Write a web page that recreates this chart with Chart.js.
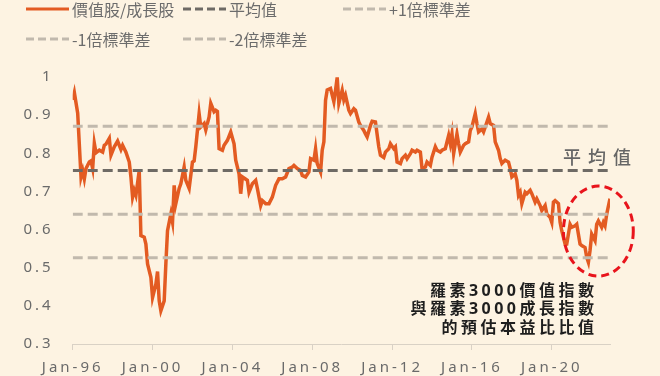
<!DOCTYPE html>
<html>
<head>
<meta charset="utf-8">
<script src="https://cdn.jsdelivr.net/npm/chart.js@4.4.1/dist/chart.umd.min.js"></script>
<style>
  html, body { margin: 0; padding: 0; background: #fdf3e2; }
  #wrap { width: 660px; height: 376px; position: relative; }
</style>
</head>
<body>
<div id="wrap"><canvas id="chart"></canvas></div>
<script>
// Meses desde Jan-1996 (eixo x) e razão value/growth P/E
const monthIdx = [
  0, 1, 3, 5, 6, 7, 8, 10, 11, 12, 13, 14, 16, 18, 19, 20, 22, 23, 25, 27, 29, 30, 32, 34, 35, 36, 37, 38, 40, 41,
  43, 44, 45, 47, 48, 50, 51, 52, 53, 55, 56, 57, 59, 60, 61, 62, 64, 65, 67, 68, 70, 72, 73, 74, 76, 77, 79, 80, 82, 83,
  85, 86, 87, 88, 90, 91, 93, 95, 97, 98, 100, 101, 102, 105, 106, 108, 110, 111, 113, 114, 116, 118, 120, 122, 124, 126, 128, 130, 132, 133,
  135, 137, 138, 140, 142, 143, 145, 146, 147, 149, 150, 151, 152, 153, 155, 157, 158, 159, 160, 162, 163, 164, 166, 167, 169, 170, 172, 173, 175, 176,
  177, 179, 180, 182, 184, 185, 187, 188, 190, 191, 193, 194, 195, 197, 198, 200, 201, 203, 204, 206, 207, 209, 210, 212, 213, 215, 216, 218, 219, 221,
  222, 224, 225, 226, 227, 228, 229, 231, 232, 233, 235, 236, 238, 239, 240, 242, 243, 244, 246, 247, 248, 250, 251, 253, 254, 256, 257, 258, 260, 262,
  263, 264, 266, 267, 268, 269, 270, 272, 273, 275, 276, 278, 279, 281, 282, 284, 285, 287, 288, 289, 290, 292, 293, 294, 296, 297, 299, 300, 302, 303,
  305, 306, 308, 309, 310, 311, 312, 314, 315, 316, 318, 319, 320, 321, 323
];
const ratio = [
  0.940, 0.959, 0.905, 0.738, 0.755, 0.733, 0.760, 0.777, 0.780, 0.760, 0.826, 0.801, 0.808, 0.803, 0.821, 0.824, 0.839, 0.795, 0.817, 0.832, 0.810, 0.821, 0.803, 0.777, 0.738, 0.685, 0.703, 0.690, 0.755, 0.584,
  0.580, 0.562, 0.510, 0.475, 0.422, 0.457, 0.490, 0.413, 0.387, 0.413, 0.510, 0.597, 0.641, 0.619, 0.716, 0.668, 0.708, 0.720, 0.764, 0.729, 0.708, 0.777, 0.780, 0.817, 0.904, 0.869, 0.878, 0.861, 0.895, 0.931,
  0.909, 0.913, 0.910, 0.812, 0.808, 0.821, 0.834, 0.856, 0.825, 0.782, 0.746, 0.694, 0.738, 0.729, 0.698, 0.720, 0.729, 0.708, 0.663, 0.676, 0.668, 0.668, 0.685, 0.716, 0.733, 0.733, 0.738, 0.760, 0.764, 0.768,
  0.760, 0.755, 0.742, 0.738, 0.751, 0.786, 0.782, 0.812, 0.773, 0.751, 0.808, 0.830, 0.939, 0.966, 0.970, 0.935, 0.965, 0.999, 0.931, 0.965, 0.940, 0.952, 0.913, 0.904, 0.917, 0.913, 0.882, 0.873, 0.860, 0.851,
  0.843, 0.873, 0.884, 0.882, 0.817, 0.795, 0.789, 0.803, 0.812, 0.825, 0.812, 0.817, 0.777, 0.773, 0.786, 0.795, 0.786, 0.799, 0.808, 0.803, 0.808, 0.803, 0.760, 0.764, 0.777, 0.768, 0.790, 0.817, 0.808, 0.803,
  0.808, 0.812, 0.830, 0.847, 0.825, 0.851, 0.799, 0.851, 0.825, 0.803, 0.821, 0.825, 0.830, 0.860, 0.869, 0.904, 0.878, 0.856, 0.864, 0.856, 0.869, 0.895, 0.878, 0.873, 0.830, 0.808, 0.786, 0.773, 0.782, 0.777,
  0.760, 0.738, 0.746, 0.729, 0.690, 0.698, 0.668, 0.698, 0.694, 0.703, 0.694, 0.672, 0.681, 0.663, 0.650, 0.663, 0.641, 0.632, 0.619, 0.672, 0.676, 0.668, 0.619, 0.597, 0.562, 0.562, 0.614, 0.606, 0.610, 0.614,
  0.562, 0.558, 0.553, 0.527, 0.514, 0.545, 0.588, 0.571, 0.614, 0.623, 0.606, 0.619, 0.610, 0.640, 0.681
];

// Linhas de referência: média e desvios padrão
const refLabels = ['平均值', '+1倍標準差', '-1倍標準差', '-2倍標準差'];
const refValues = [0.755, 0.871, 0.640, 0.526];
const refColors = ['#6e6a65', '#c1b9ad', '#c1b9ad', '#c1b9ad'];

const seriesLabel = '價值股/成長股';
const xTickLabels = ['Jan-96', 'Jan-00', 'Jan-04', 'Jan-08', 'Jan-12', 'Jan-16', 'Jan-20'];
const yTickLabels = ['0.3', '0.4', '0.5', '0.6', '0.7', '0.8', '0.9', '1'];
const captionLines = ['羅素3000價值指數', '與羅素3000成長指數', '的預估本益比比值'];
const meanTag = '平均值';

// Elipse vermelha destacando o período recente
const highlight = { month: 316, value: 0.596, monthRadius: 21, valueRadius: 0.118 };

const lastMonth = monthIdx[monthIdx.length - 1];

const datasets = [{
  label: seriesLabel,
  data: monthIdx.map((m, i) => ({ x: m, y: ratio[i] })),
  borderColor: '#e35b22',
  borderWidth: 3.5,
  pointRadius: 0,
  tension: 0,
  order: 10
}];
refLabels.forEach((lab, i) => {
  datasets.push({
    label: lab,
    data: [{ x: 0, y: refValues[i] }, { x: lastMonth, y: refValues[i] }],
    borderColor: refColors[i],
    borderWidth: 3,
    borderDash: [10, 5],
    pointRadius: 0,
    order: i
  });
});

// Plugin: legenda, textos e elipse
const extras = {
  id: 'extras',
  beforeDraw(chart) {
    chart.ctx.letterSpacing = '3px';
  },
  afterDatasetsDraw(chart) {
    const ctx = chart.ctx;
    const x = chart.scales.x, y = chart.scales.y;
    const cx = x.getPixelForValue(highlight.month);
    const cy = y.getPixelForValue(highlight.value);
    const rx = x.getPixelForValue(highlight.month + highlight.monthRadius) - cx;
    const ry = cy - y.getPixelForValue(highlight.value + highlight.valueRadius);
    ctx.save();
    ctx.strokeStyle = '#e8141c';
    ctx.lineWidth = 3;
    ctx.setLineDash([8, 5]);
    ctx.beginPath();
    ctx.ellipse(cx, cy, rx, ry, 0, 0, Math.PI * 2);
    ctx.stroke();
    ctx.restore();
  },
  afterDraw(chart) {
    const ctx = chart.ctx;
    const area = chart.chartArea;
    const y = chart.scales.y;
    ctx.save();
    ctx.letterSpacing = '0px';

    // legenda
    const slots = [[26, 9], [183, 9], [343, 9], [26, 39], [183, 39]];
    chart.data.datasets.forEach((ds, i) => {
      const [lx, ly] = slots[i];
      ctx.strokeStyle = ds.borderColor;
      ctx.lineWidth = 3;
      ctx.setLineDash(ds.borderDash ? [8, 4] : []);
      ctx.beginPath();
      ctx.moveTo(lx, ly);
      ctx.lineTo(lx + 43, ly);
      ctx.stroke();
      ctx.setLineDash([]);
      ctx.fillStyle = '#6c6c6c';
      ctx.font = '16px "Noto Sans CJK TC"';
      ctx.textAlign = 'left';
      ctx.textBaseline = 'middle';
      ctx.fillText(ds.label, lx + 46, ly + 1);
    });

    // rótulo da média
    ctx.letterSpacing = '7px';
    ctx.font = '500 18px "Noto Sans CJK TC"';
    ctx.fillStyle = '#666666';
    ctx.textAlign = 'left';
    ctx.fillText(meanTag, area.right - 47, y.getPixelForValue(refValues[0]) - 13);

    // legenda explicativa
    ctx.letterSpacing = '3.5px';
    ctx.font = 'bold 16px "Noto Sans", "Noto Sans CJK TC"';
    ctx.fillStyle = '#1e1e1e';
    ctx.textAlign = 'right';
    captionLines.forEach((t, i) => {
      ctx.fillText(t, area.right - 12.5, 291 + i * 18.5);
    });
    ctx.restore();
  }
};

new Chart(document.getElementById('chart'), {
  type: 'line',
  data: { datasets },
  plugins: [extras],
  options: {
    responsive: true,
    maintainAspectRatio: false,
    animation: false,
    layout: { padding: { top: 77, right: 50, bottom: 0, left: 0 } },
    plugins: {
      legend: { display: false },
      tooltip: { enabled: false }
    },
    scales: {
      x: {
        type: 'linear',
        min: 0,
        max: lastMonth,
        afterFit: s => { s.height = 32; },
        border: { display: true, color: '#d9d1c5', width: 1 },
        grid: { display: true, drawOnChartArea: false, drawTicks: true, tickLength: 6, color: '#d9d1c5' },
        ticks: {
          stepSize: 48,
          includeBounds: false,
          autoSkip: false,
          maxRotation: 0,
          padding: 9,
          color: '#6a6a6a',
          font: { family: 'Noto Sans', size: 15 },
          callback: v => xTickLabels[v / 48]
        }
      },
      y: {
        min: 0.3,
        max: 1.0,
        border: { display: false },
        grid: { display: false, drawTicks: false },
        afterFit: s => { s.width = 72.7; },
        ticks: {
          stepSize: 0.1,
          padding: 19,
          color: '#6a6a6a',
          font: { family: 'Noto Sans', size: 15 },
          callback: v => yTickLabels[Math.round((v - 0.3) * 10)]
        }
      }
    }
  }
});
</script>
</body>
</html>
